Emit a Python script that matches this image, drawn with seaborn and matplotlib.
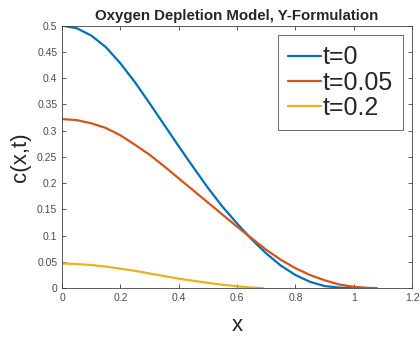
import matplotlib
matplotlib.use('Agg')
import matplotlib.pyplot as plt
import matplotlib.ticker as mticker
import seaborn as sns
import pandas as pd

sns.set_theme(style='white')
plt.rcParams['font.family'] = ['Liberation Sans', 'DejaVu Sans']

# valores
x_t0 = [0, 0.05, 0.1, 0.15, 0.2, 0.25, 0.3, 0.35, 0.4, 0.45, 0.5, 0.55, 0.6,
        0.65, 0.7, 0.75, 0.8, 0.85, 0.9, 0.95, 1.0]
c_t0 = [0.500, 0.495, 0.481, 0.459, 0.428, 0.392, 0.352, 0.311, 0.270, 0.230,
        0.191, 0.155, 0.123, 0.093, 0.066, 0.043, 0.025, 0.012, 0.004, 0.001, 0.0]

x_t005 = [0, 0.05, 0.1, 0.15, 0.2, 0.25, 0.3, 0.35, 0.4, 0.45, 0.5, 0.55, 0.6,
          0.65, 0.7, 0.75, 0.8, 0.85, 0.9, 0.95, 1.0, 1.05, 1.08]
c_t005 = [0.322, 0.320, 0.314, 0.305, 0.291, 0.273, 0.254, 0.232, 0.209, 0.186,
          0.163, 0.140, 0.117, 0.095, 0.073, 0.054, 0.038, 0.025, 0.015, 0.007,
          0.0025, 0.0005, 0.0]

x_t02 = [0, 0.05, 0.1, 0.15, 0.2, 0.25, 0.3, 0.35, 0.4, 0.45, 0.5, 0.55, 0.6,
         0.65, 0.69]
c_t02 = [0.047, 0.046, 0.044, 0.041, 0.037, 0.033, 0.028, 0.023, 0.018, 0.014,
         0.010, 0.0065, 0.0035, 0.0012, 0.0]

labels = ['t=0', 't=0.05', 't=0.2']
colors = ['#0072BD', '#D95319', '#EDB120']

x_ticks = [0, 0.2, 0.4, 0.6, 0.8, 1.0, 1.2]
y_ticks = [0, 0.05, 0.1, 0.15, 0.2, 0.25, 0.3, 0.35, 0.4, 0.45, 0.5]

# tabla larga para seaborn
df = pd.concat([
    pd.DataFrame({'x': x_t0, 'c': c_t0, 't': labels[0]}),
    pd.DataFrame({'x': x_t005, 'c': c_t005, 't': labels[1]}),
    pd.DataFrame({'x': x_t02, 'c': c_t02, 't': labels[2]}),
], ignore_index=True)

fig = plt.figure(figsize=(4.2, 3.37), dpi=100)
ax = fig.add_axes([0.148, 0.145, 0.833, 0.779])

sns.lineplot(data=df, x='x', y='c', hue='t', palette=colors, hue_order=labels,
             linewidth=1.6, sort=False, ax=ax)

axis_col = '#404040'
ax.set_xlim(0, 1.2)
ax.set_ylim(0, 0.5)
ax.set_xticks(x_ticks)
ax.set_yticks(y_ticks)
ax.xaxis.set_major_formatter(mticker.FormatStrFormatter('%g'))
ax.yaxis.set_major_formatter(mticker.FormatStrFormatter('%g'))
ax.tick_params(direction='in', length=3, width=0.6, colors=axis_col,
               labelsize=7.5, top=True, right=True, bottom=True, left=True,
               labelcolor='#4d4d4d')
for s in ax.spines.values():
    s.set_color(axis_col)
    s.set_linewidth(0.6)

ax.set_title('Oxygen Depletion Model, Y-Formulation', fontsize=10.8,
             fontweight='bold', pad=4)
ax.set_xlabel('x', fontsize=16, labelpad=9)
ax.set_ylabel('c(x,t)', fontsize=16, labelpad=4)

leg = ax.legend(loc='upper right', fontsize=18, frameon=True, fancybox=False,
                handlelength=1.3, handletextpad=0.1, borderpad=0.4,
                labelspacing=0.05, bbox_to_anchor=(0.975, 0.963), borderaxespad=0,
                title=None)
leg.get_frame().set_edgecolor('#262626')
leg.get_frame().set_linewidth(0.6)
for line in leg.get_lines():
    line.set_linewidth(1.6)

fig.savefig('out.png', dpi=100)
